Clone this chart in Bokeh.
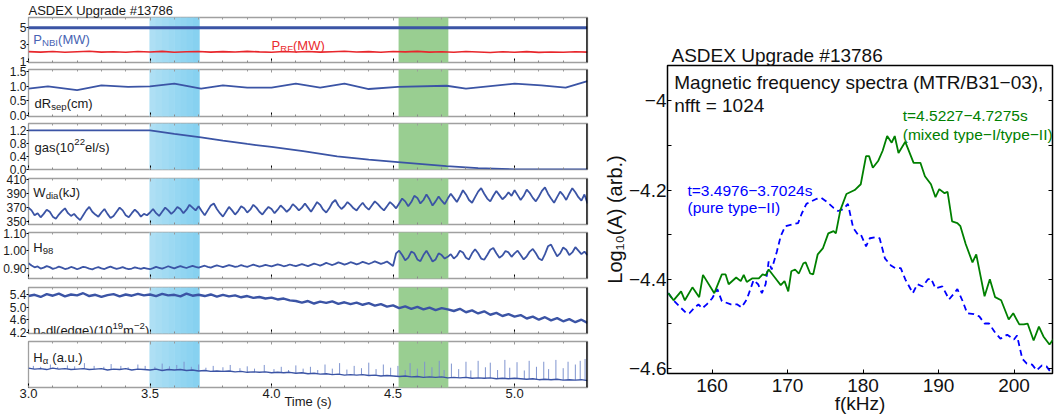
import numpy as np
from bokeh.plotting import figure
from bokeh.layouts import column, row
from bokeh.models import (Range1d, LinearAxis, FixedTicker, PrintfTickFormatter,
                          Label, BoxAnnotation, Span, CustomLabelingPolicy)
from bokeh.embed import file_html
from bokeh.resources import INLINE

# ---------------- data: left (time traces) ----------------
shot_title = "ASDEX Upgrade #13786"
band_typeII = [3.4976, 3.7024]
band_mixed = [4.5227, 4.7275]

time_ticks = [3.0, 3.5, 4.0, 4.5, 5.0]
time_minor = [round(3.0 + 0.1 * i, 1) for i in range(24)]

t_nbi = [3.0, 5.3]
p_nbi = [5.0, 5.0]

t_rf = [round(3.0 + 0.05 * i, 2) for i in range(47)]
p_rf = [2.18, 2.12, 2.20, 2.10, 2.16, 2.22, 2.12, 2.17, 2.10, 2.19, 2.14, 2.21, 2.11, 2.16,
        2.20, 2.12, 2.18, 2.13, 2.21, 2.15, 2.11, 2.19, 2.14, 2.20, 2.12, 2.17, 2.22, 2.13,
        2.18, 2.11, 2.20, 2.15, 2.21, 2.12, 2.17, 2.10, 2.19, 2.14, 2.08, 2.16, 2.11, 2.18,
        2.09, 2.14, 2.10, 2.17, 2.12]

t_drsep = [3.00, 3.08, 3.20, 3.30, 3.41, 3.50, 3.60, 3.71, 3.80, 3.90, 4.00, 4.10, 4.20,
           4.30, 4.40, 4.52, 4.72, 4.80, 5.00, 5.11, 5.21, 5.30]
drsep = [0.91, 0.99, 0.86, 1.02, 0.97, 0.99, 1.08, 0.91, 1.02, 0.95, 0.95, 1.08, 0.95,
         1.08, 0.90, 0.97, 1.01, 0.91, 1.08, 1.02, 0.95, 1.17]

t_gas = [3.0, 3.5, 3.6, 3.71, 3.8, 3.9, 4.0, 4.13, 4.27, 4.4, 4.52, 4.72, 4.85, 5.0, 5.3]
gas = [1.20, 1.20, 1.09, 0.98, 0.88, 0.78, 0.69, 0.56, 0.40, 0.30, 0.225, 0.10, 0.04, 0.0, 0.0]

# fine time base (12.5 ms) for W_dia and H98
t_fine = [round(3.0 + 0.0125 * i, 4) for i in range(185)]
w_dia = [370, 366, 359, 362, 356, 361, 367, 364, 357, 354, 360, 365, 369, 362, 358, 361, 356, 352, 359, 366,
         371, 364, 360, 357, 363, 368, 361, 355, 358, 364, 370, 366, 359, 356, 362, 367, 363, 357, 361, 359,
         363, 368, 362, 358, 364, 370, 366, 361, 365, 371, 368, 362, 367, 374, 370, 366, 372,
         365, 359, 366, 373, 376, 368, 362, 357, 364, 371, 366, 360, 365, 372, 369, 363, 367, 374, 370, 364,
         360, 366, 371, 368, 362, 367, 373, 369, 364, 368, 375, 371, 366, 370,
         376, 370, 364, 371, 378, 374, 367, 363, 369, 377, 381, 373, 368, 372, 378, 374, 369, 366, 372, 377,
         371, 367, 373, 379, 375, 370, 366, 372, 378, 374,
         369, 376, 383, 379, 372, 378, 387, 384, 376, 381, 389, 382, 373, 379, 386, 380, 375, 383,
         390, 384, 378, 386, 395, 389, 381, 377, 385, 393, 398, 390, 383, 379, 387, 394, 388, 382, 386, 392,
         387, 395,
         388, 381, 387, 396, 391, 384, 379, 386, 394, 399, 390, 383, 377, 385, 393, 388, 381, 390, 398, 392,
         385, 380, 389, 376]
h98 = [0.928, 0.915, 0.905, 0.910, 0.898, 0.903, 0.912, 0.906, 0.896, 0.901, 0.909, 0.903, 0.895, 0.899,
       0.907, 0.902, 0.894, 0.900, 0.908, 0.904, 0.897, 0.893, 0.901, 0.906, 0.899, 0.895, 0.903, 0.909,
       0.902, 0.896, 0.900, 0.906, 0.899, 0.894, 0.898, 0.905, 0.900, 0.896, 0.902, 0.898,
       0.894, 0.900, 0.907, 0.902, 0.897, 0.904, 0.911, 0.905, 0.899, 0.906, 0.912, 0.906, 0.901, 0.908,
       0.913, 0.907, 0.903,
       0.909, 0.914, 0.908, 0.903, 0.910, 0.916, 0.911, 0.906, 0.912, 0.918, 0.913, 0.907, 0.911, 0.917,
       0.912, 0.908, 0.914, 0.920, 0.915, 0.909, 0.913, 0.919, 0.914, 0.910, 0.916, 0.922, 0.917, 0.911,
       0.915, 0.921, 0.916, 0.912, 0.918, 0.923,
       0.917, 0.912, 0.919, 0.926, 0.921, 0.915, 0.922, 0.930, 0.924, 0.918, 0.925, 0.933, 0.927, 0.920,
       0.926, 0.934, 0.929, 0.922, 0.928, 0.936, 0.930, 0.924, 0.931, 0.939, 0.932, 0.925, 0.930, 0.938,
       0.925, 0.912,
       0.985, 1.000, 0.975, 0.945, 0.960, 0.995, 0.985, 0.950, 0.940, 0.975, 1.000, 0.970, 0.938, 0.950,
       0.985, 0.975, 0.955, 0.965,
       0.980, 0.955, 0.970, 1.000, 0.990, 0.960, 0.950, 0.985, 1.008, 0.985, 0.955, 0.948, 0.975, 1.005,
       1.015, 0.985, 0.960, 0.972, 0.998, 0.990, 0.965, 0.985,
       1.000, 0.975, 0.950, 0.968, 0.995, 1.010, 0.985, 0.955, 0.945, 0.980, 1.025, 1.035, 1.000, 0.968,
       0.985, 1.018, 1.005, 0.975, 0.990, 1.020, 1.000, 0.980, 0.995, 0.975]

# 25 ms time base for n_e dl and H_alpha baseline
t_fast = [round(3.0 + 0.025 * i, 3) for i in range(93)]
ne_edge = [5.36, 5.40, 5.33, 5.42, 5.37, 5.44, 5.35, 5.41, 5.38, 5.45, 5.36, 5.40, 5.33, 5.39, 5.42, 5.35,
           5.41, 5.37, 5.43, 5.38,
           5.41, 5.36, 5.43, 5.38, 5.40, 5.35, 5.44, 5.37, 5.40,
           5.36, 5.41, 5.34, 5.40, 5.35, 5.38, 5.32, 5.36, 5.30, 5.33, 5.28, 5.31, 5.25, 5.28, 5.22, 5.20,
           5.15, 5.20, 5.12, 5.18, 5.14, 5.19, 5.11, 5.16, 5.10, 5.15, 5.08, 5.13, 5.05, 5.10, 5.02,
           5.06, 4.97, 5.03, 4.95, 5.01, 4.93, 4.99, 4.91, 4.97, 4.93,
           4.88, 4.95, 4.84, 4.90, 4.80, 4.87, 4.76, 4.82, 4.72, 4.78, 4.70,
           4.75, 4.64, 4.70, 4.60, 4.68, 4.58, 4.65, 4.55, 4.62, 4.52, 4.60, 4.50]
ha_base = [0.42, 0.40, 0.41, 0.39, 0.42, 0.40, 0.41, 0.39, 0.40, 0.41, 0.39, 0.40, 0.41, 0.38, 0.40, 0.39,
           0.41, 0.38, 0.40, 0.39,
           0.38, 0.40, 0.37, 0.39, 0.38, 0.39, 0.37, 0.38, 0.36,
           0.37, 0.35, 0.36, 0.35, 0.36, 0.34, 0.35, 0.33, 0.34, 0.33, 0.34, 0.32, 0.33, 0.32, 0.33, 0.31,
           0.32, 0.30, 0.31, 0.29, 0.30, 0.28, 0.29, 0.27, 0.28, 0.27, 0.28, 0.26, 0.27, 0.25, 0.26,
           0.25, 0.24, 0.25, 0.23, 0.24, 0.22, 0.23, 0.22, 0.23, 0.21,
           0.22, 0.21, 0.22, 0.20, 0.21, 0.20, 0.21, 0.19, 0.20, 0.19, 0.20,
           0.19, 0.18, 0.19, 0.17, 0.18, 0.17, 0.18, 0.16, 0.17, 0.16, 0.17, 0.15]
ha_spike_t = [3.02, 3.05, 3.09, 3.12, 3.16, 3.19, 3.23, 3.27, 3.31, 3.34, 3.38, 3.41, 3.45, 3.48,
              3.52, 3.55, 3.58, 3.61, 3.64, 3.67, 3.70, 3.73, 3.76, 3.80, 3.83, 3.87, 3.90, 3.93, 3.97,
              4.01, 4.04, 4.07, 4.10, 4.13, 4.16, 4.19, 4.22, 4.25, 4.28, 4.31, 4.34, 4.37, 4.40, 4.43,
              4.46, 4.49, 4.52, 4.55, 4.57, 4.60, 4.63, 4.66, 4.69, 4.71, 4.74, 4.77, 4.80, 4.82, 4.85,
              4.88, 4.90, 4.93, 4.96, 4.98, 5.01, 5.04, 5.06, 5.09, 5.12, 5.14, 5.17, 5.20, 5.22, 5.25,
              5.27, 5.29]
ha_spike_v = [0.47, 0.45, 0.50, 0.44, 0.48, 0.46, 0.53, 0.47, 0.45, 0.51, 0.47, 0.44, 0.50, 0.47,
              0.45, 0.52, 0.46, 0.49, 0.56, 0.45, 0.50, 0.43, 0.47, 0.44, 0.49, 0.42, 0.46, 0.41, 0.49,
              0.40, 0.45, 0.38, 0.48, 0.41, 0.45, 0.38, 0.50, 0.41, 0.53, 0.39, 0.47, 0.42, 0.54, 0.40,
              0.50, 0.43, 0.47, 0.38, 0.53, 0.41, 0.56, 0.44, 0.58, 0.38, 0.52, 0.40, 0.56, 0.37, 0.58,
              0.44, 0.54, 0.38, 0.60, 0.43, 0.55, 0.37, 0.58, 0.45, 0.56, 0.40, 0.60, 0.42, 0.56, 0.50,
              0.58, 0.62]

# y ticks of the left panels
nbi_ticks = [1, 3, 5]
drsep_ticks = [0.0, 0.5, 1.0, 1.5]
gas_ticks = [0.0, 0.4, 0.8, 1.2]
wdia_ticks = [350, 370, 390, 410]
h98_ticks = [0.90, 1.00, 1.10]
ne_ticks = [4.2, 4.6, 5.0, 5.4]

# ---------------- data: right (spectra) ----------------
f_mixed = [154.2, 154.9, 155.9, 156.4, 157.4, 158.3, 158.8, 160.3, 161.3, 161.8, 162.2, 163.2, 163.8,
           164.2, 164.6, 165.3, 166.2, 166.7, 167.1, 167.5, 168.6, 169.1, 169.6, 170.1, 170.5, 171.0,
           171.5, 172.1, 172.4, 173.0, 173.4, 174.0, 174.7, 175.4, 176.1, 176.4, 177.0, 177.8, 178.9,
           179.7, 180.4, 180.8, 181.3, 182.0, 182.6, 183.2, 183.8, 184.2, 184.7, 185.6, 186.7, 187.6,
           188.2, 189.0, 189.6, 190.1, 190.8, 191.2, 191.8, 192.5, 192.9, 193.6, 194.5, 195.0, 196.1,
           196.8, 197.5, 198.3, 199.3, 199.9, 200.7, 201.3, 201.8, 202.6, 203.3, 203.9, 204.7, 205.4]
a_mixed = [-4.431, -4.447, -4.427, -4.447, -4.418, -4.440, -4.390, -4.431, -4.389, -4.389, -4.411, -4.396,
           -4.404, -4.390, -4.406, -4.398, -4.398, -4.389, -4.391, -4.378, -4.402, -4.413, -4.404, -4.427,
           -4.382, -4.378, -4.387, -4.364, -4.362, -4.387, -4.389, -4.344, -4.330, -4.297, -4.292, -4.297,
           -4.245, -4.209, -4.200, -4.187, -4.124, -4.124, -4.150, -4.135, -4.112, -4.079, -4.094, -4.079,
           -4.117, -4.092, -4.139, -4.139, -4.169, -4.187, -4.216, -4.198, -4.207, -4.204, -4.270, -4.274,
           -4.281, -4.321, -4.362, -4.344, -4.438, -4.400, -4.440, -4.447, -4.490, -4.476, -4.501, -4.501,
           -4.499, -4.537, -4.506, -4.528, -4.546, -4.530]
f_pure = [154.2, 155.0, 155.7, 156.6, 157.0, 157.6, 158.2, 158.7, 159.3, 160.0, 160.7, 161.3, 162.5,
          163.3, 163.9, 164.6, 165.5, 166.1, 166.6, 167.1, 167.5, 167.9, 168.6, 169.1, 169.7, 170.8,
          171.4, 171.9, 172.5, 173.2, 173.8, 174.5, 175.1, 176.1, 176.7, 177.4, 178.0, 178.7, 179.3,
          179.7, 180.4, 180.9, 181.6, 182.2, 182.9, 183.7, 184.3, 185.0, 185.6, 186.6, 187.2, 187.9,
          188.6, 189.0, 189.6, 190.5, 191.4, 192.1, 192.5, 193.2, 193.8, 194.7, 195.4, 196.1, 196.7,
          197.4, 198.2, 199.1, 200.0, 200.4, 201.1, 201.7, 202.4, 203.0, 203.7, 204.3, 205.0]
a_pure = [-4.431, -4.449, -4.461, -4.476, -4.476, -4.465, -4.456, -4.465, -4.456, -4.443, -4.422, -4.449,
          -4.456, -4.456, -4.463, -4.445, -4.402, -4.411, -4.431, -4.411, -4.360, -4.378, -4.337, -4.303,
          -4.281, -4.276, -4.274, -4.252, -4.231, -4.225, -4.220, -4.218, -4.225, -4.240, -4.247, -4.243,
          -4.231, -4.285, -4.299, -4.299, -4.326, -4.308, -4.306, -4.308, -4.353, -4.369, -4.375, -4.375,
          -4.400, -4.431, -4.411, -4.416, -4.400, -4.398, -4.420, -4.416, -4.445, -4.431, -4.422, -4.449,
          -4.476, -4.478, -4.483, -4.499, -4.499, -4.517, -4.533, -4.524, -4.535, -4.526, -4.578, -4.589,
          -4.591, -4.604, -4.593, -4.595, -4.611]
f_ticks = [160, 170, 180, 190, 200]
a_ticks = [-4.6, -4.4, -4.2, -4.0]
a_tick_labels = ["\u22124.6", "\u22124.4", "\u22124.2", "\u22124"]
a_minor = [-4.5, -4.3, -4.1]

# ---------------- styling helpers ----------------
FONT = "Liberation Sans"
BLUE = "#3b54a5"
CHARW = {' ': 278, '(': 333, ')': 333, '.': 278, '/': 278, '-': 333, '\u2212': 584, '=': 584,
         'A': 667, 'B': 667, 'D': 722, 'E': 667, 'F': 611, 'H': 722, 'I': 278, 'J': 500, 'M': 833,
         'N': 722, 'P': 667, 'R': 722, 'S': 667, 'T': 611, 'U': 722, 'W': 944, 'X': 667,
         'a': 556, 'b': 556, 'c': 500, 'd': 556, 'e': 556, 'f': 278, 'g': 556, 'h': 556, 'i': 222,
         'k': 500, 'l': 222, 'm': 833, 'n': 556, 'o': 556, 'p': 556, 'q': 556, 'r': 333, 's': 500,
         't': 278, 'u': 556, 'v': 500, 'x': 500, 'y': 500, '\u03b1': 578}


def text_w(s, size):
    return sum(CHARW.get(c, 556) for c in s) * size / 1000.0


def rich(fig, x, y, parts, color, size=13.0):
    off = 0.0
    for part in parts:
        txt, kind = part[0], part[1]
        if len(part) > 2:
            off += part[2]
        fs = size if kind == "n" else size * 0.74
        dy = 0 if kind == "n" else (-3 if kind == "sub" else 5)
        fig.add_layout(Label(x=x, y=y, x_offset=off, y_offset=dy, text=txt,
                             text_font=FONT, text_font_size=f"{fs:.1f}px", text_color=color,
                             text_baseline="alphabetic", text_align="left"))
        off += text_w(txt, fs)


def no_labels():
    return CustomLabelingPolicy(code="return new Set()")


x_range = Range1d(3.0, 5.3)
cyan_cols = ["#aedff4", "#a8ddf3", "#a2dbf3", "#9cd9f2", "#96d7f2", "#91d5f1", "#8cd3f1", "#87d1f0"]
OVERLAP = 14


def panel(height, top, bottom, yr, yticks=None, fmt="%.1f", last=False, title=None, first=False):
    kw = {}
    if title is not None:
        kw["title"] = title
    if not first:
        kw["styles"] = {"margin-top": f"-{OVERLAP}px"}
    p = figure(width=600, height=height, x_range=x_range, y_range=Range1d(*yr),
               output_backend="svg", toolbar_location=None,
               min_border_left=26, min_border_right=13, min_border_top=top, min_border_bottom=bottom, **kw)
    p.xgrid.visible = False
    p.ygrid.visible = False
    p.outline_line_color = "#a0a0a0"
    p.outline_line_width = 1.3
    p.border_fill_color = None
    p.background_fill_color = "white"
    band_top = -60 if first else OVERLAP // 2
    n = len(cyan_cols)
    w = (band_typeII[1] - band_typeII[0]) / n
    for i, c in enumerate(cyan_cols):
        p.add_layout(BoxAnnotation(left=band_typeII[0] + i * w, right=band_typeII[0] + (i + 1) * w + 0.002,
                                   top=band_top, top_units="canvas", bottom=height + 60, bottom_units="canvas",
                                   fill_color=c, fill_alpha=1.0, line_alpha=0, level="underlay"))
    p.add_layout(BoxAnnotation(left=band_mixed[0], right=band_mixed[1],
                               top=band_top, top_units="canvas", bottom=height + 60, bottom_units="canvas",
                               fill_color="#99ce91", fill_alpha=1.0, line_alpha=0, level="underlay"))
    xa = p.below[0]
    xa.ticker = FixedTicker(ticks=time_ticks, minor_ticks=time_minor)
    xa.formatter = PrintfTickFormatter(format="%.1f")
    xa.major_tick_in = 4
    xa.major_tick_out = 0
    xa.major_tick_line_color = "black"
    xa.minor_tick_in = 2
    xa.minor_tick_out = 0
    xa.minor_tick_line_color = "#8a8a8a"
    xa.axis_line_color = None
    xa.major_label_text_font = FONT
    xa.major_label_standoff = 1
    if last:
        xa.major_label_text_font_size = "13px"
        xa.major_label_text_color = "#1a1a1a"
    else:
        xa.major_label_text_font_size = "0px"
        xa.major_label_standoff = 0
        xa.major_label_policy = no_labels()
    top_ax = LinearAxis(ticker=FixedTicker(ticks=time_ticks, minor_ticks=time_minor),
                        major_tick_in=3, major_tick_out=0, minor_tick_in=2, minor_tick_out=0,
                        major_tick_line_color="#9a9a9a", minor_tick_line_color="#9a9a9a",
                        axis_line_color=None, major_label_text_font_size="0px", major_label_standoff=0,
                        major_label_policy=no_labels())
    p.add_layout(top_ax, "above")
    p.add_layout(Span(location=5.3, dimension="height", line_color="black", line_width=2.5))
    ya = p.left[0]
    if yticks is None:
        ya.visible = False
    else:
        ya.ticker = FixedTicker(ticks=yticks)
        ya.formatter = PrintfTickFormatter(format=fmt)
        ya.major_tick_in = 0
        ya.major_tick_out = 2
        ya.major_tick_line_color = "black"
        ya.minor_tick_in = 0
        ya.minor_tick_out = 0
        ya.axis_line_color = None
        ya.major_label_text_font = FONT
        ya.major_label_text_font_size = "12px"
        ya.major_label_text_color = "#1a1a1a"
        ya.major_label_standoff = 0
    return p


# panel 1: powers
p1 = panel(72, 14, 10, (0.89, 6.22), nbi_ticks, "%.0f", title=shot_title, first=True)
p1.title.align = "left"
p1.title.standoff = 0
p1.title.offset = 0
p1.title.text_font = FONT
p1.title.text_font_size = "13px"
p1.title.text_font_style = "normal"
p1.title.text_color = "#1a1a1a"
p1.line(t_nbi, p_nbi, line_color=BLUE, line_width=3)
p1.line(t_rf, p_rf, line_color="#e8262b", line_width=1.6)
rich(p1, 3.02, 3.664, [("P", "n"), ("NBI", "sub"), ("(MW)", "n")], "#4763b3")
rich(p1, 4.0, 2.887, [("P", "n"), ("RF", "sub"), ("(MW)", "n")], "#ea2a2e")

# panel 2: dR_sep
p2 = panel(68, 11, 10, (-0.03, 1.56), drsep_ticks, "%.1f")
p2.line(t_drsep, drsep, line_color=BLUE, line_width=1.8)
rich(p2, 3.025, 0.41, [("dR", "n"), ("sep", "sub"), ("(cm)", "n")], "#1a1a1a")

# panel 3: gas
p3 = panel(68, 11, 11, (-0.005, 1.41), gas_ticks, "%.1f")
p3.line(t_gas, gas, line_color=BLUE, line_width=1.8)
rich(p3, 3.025, 0.672, [("gas(10", "n"), ("22", "sup"), ("el/s)", "n")], "#1a1a1a")

# panel 4: W_dia
p4 = panel(69, 12, 11, (345.7, 411.9), wdia_ticks, "%.0f")
p4.line(t_fine, w_dia, line_color=BLUE, line_width=1.8)
rich(p4, 3.02, 391.8, [("W", "n"), ("dia", "sub"), ("(kJ)", "n")], "#1a1a1a")

# panel 5: H98
p5 = panel(68, 11, 11, (0.841, 1.104), h98_ticks, "%.2f")
p5.line(t_fine, h98, line_color=BLUE, line_width=1.8)
rich(p5, 3.02, 1.018, [("H", "n"), ("98", "sub")], "#1a1a1a")

# panel 6: n_e dl edge
p6 = panel(69, 12, 11, (4.158, 5.634), ne_ticks, "%.1f")
p6.line(t_fast, ne_edge, line_color=BLUE, line_width=2.4)
rich(p6, 3.02, 4.254, [("n", "n"), ("e", "sub"), ("dl(edge)(10", "n"), ("19", "sup"), ("m", "n"),
                       ("\u22122", "sup"), (")", "n")], "#1a1a1a")

# panel 7: H_alpha
p7 = panel(88, 11, 31, (0.0, 1.0), None, last=True)
base_at_spike = np.interp(ha_spike_t, t_fast, ha_base)
p7.segment(x0=ha_spike_t, y0=base_at_spike, x1=ha_spike_t, y1=ha_spike_v,
           line_color="#7f94cf", line_width=1.0)
p7.line(t_fast, ha_base, line_color=BLUE, line_width=1.4)
rich(p7, 3.02, 0.652, [("H", "n"), ("\u03b1", "sub"), ("(a.u.)", "n", 4)], "#1a1a1a")
bx = p7.below[0]
bx.axis_label = "Time (s)"
bx.axis_label_text_font = FONT
bx.axis_label_text_font_size = "13px"
bx.axis_label_text_font_style = "normal"
bx.axis_label_text_color = "#1a1a1a"
bx.axis_label_standoff = -7

left = column(p1, p2, p3, p4, p5, p6, p7, spacing=0)

# ---------------- right: spectra ----------------
q = figure(width=455, height=418, x_range=Range1d(154.1, 205.1), y_range=Range1d(-4.611, -3.921),
           output_backend="svg", toolbar_location=None, title=shot_title,
           min_border_left=63, min_border_right=3, min_border_top=65, min_border_bottom=45)
q.title.align = "left"
q.title.offset = 4
q.title.standoff = 0
q.title.text_font = FONT
q.title.text_font_size = "19px"
q.title.text_font_style = "normal"
q.title.text_color = "#111111"
q.xgrid.visible = False
q.ygrid.visible = False
q.outline_line_color = "black"
q.outline_line_width = 1.5
q.border_fill_color = "white"

q.line(f_pure, a_pure, line_color="#0000ff", line_width=1.8, line_dash="6 4")
q.line(f_mixed, a_mixed, line_color="#008000", line_width=1.8)

qx = q.below[0]
qx.ticker = FixedTicker(ticks=f_ticks)
qx.major_tick_in = 4
qx.major_tick_out = 0
qx.minor_tick_in = 0
qx.minor_tick_out = 0
qx.axis_line_color = None
qx.major_label_text_font = FONT
qx.major_label_text_font_size = "19px"
qx.major_label_text_color = "#111111"
qx.major_label_standoff = 5
qx.axis_label = "f(kHz)"
qx.axis_label_text_font = FONT
qx.axis_label_text_font_size = "19px"
qx.axis_label_text_font_style = "normal"
qx.axis_label_text_color = "#111111"
qx.axis_label_standoff = -2

qy = q.left[0]
qy.ticker = FixedTicker(ticks=a_ticks, minor_ticks=a_minor)
qy.major_label_overrides = dict(zip(a_ticks, a_tick_labels))
qy.major_tick_in = 4
qy.major_tick_out = 0
qy.minor_tick_in = 4
qy.minor_tick_out = 0
qy.axis_line_color = None
qy.major_label_text_font = FONT
qy.major_label_text_font_size = "19px"
qy.major_label_text_color = "#111111"
qy.major_label_standoff = 1
qy.axis_label = "Log\u2081\u2080(A) (arb.)"
qy.axis_label_text_font = FONT
qy.axis_label_text_font_size = "20px"
qy.axis_label_text_font_style = "normal"
qy.axis_label_text_color = "#111111"
qy.axis_label_standoff = 0

q.add_layout(LinearAxis(ticker=FixedTicker(ticks=a_ticks + a_minor), major_tick_in=4, major_tick_out=0,
                        minor_tick_in=0, minor_tick_out=0, axis_line_color=None,
                        major_label_text_font_size="0px", major_label_standoff=0,
                        major_label_policy=no_labels()), "right")

q.add_layout(Label(x=155.0, y=-3.96, text="Magnetic frequency spectra (MTR/B31\u221203),",
                   text_font=FONT, text_font_size="19px", text_color="#111111", text_baseline="alphabetic"))
q.add_layout(Label(x=155.0, y=-4.011, text="nfft = 1024", text_font=FONT, text_font_size="19px",
                   text_color="#111111", text_baseline="alphabetic"))
q.add_layout(Label(x=156.75, y=-4.2, text="t=3.4976\u22123.7024s", text_font=FONT, text_font_size="15.5px",
                   text_color="#0000ff", text_baseline="alphabetic"))
q.add_layout(Label(x=156.75, y=-4.238, text="(pure type\u2212II)", text_font=FONT, text_font_size="15.5px",
                   text_color="#0000ff", text_baseline="alphabetic"))
q.add_layout(Label(x=185.26, y=-4.034, text="t=4.5227\u22124.7275s", text_font=FONT, text_font_size="15.5px",
                   text_color="#008000", text_baseline="alphabetic"))
q.add_layout(Label(x=185.26, y=-4.076, text="(mixed type\u2212I/type\u2212II)", text_font=FONT,
                   text_font_size="15.5px", text_color="#008000", text_baseline="alphabetic"))

root = row(left, q, spacing=0)

open("out.html", "w").write(file_html(root, INLINE))
